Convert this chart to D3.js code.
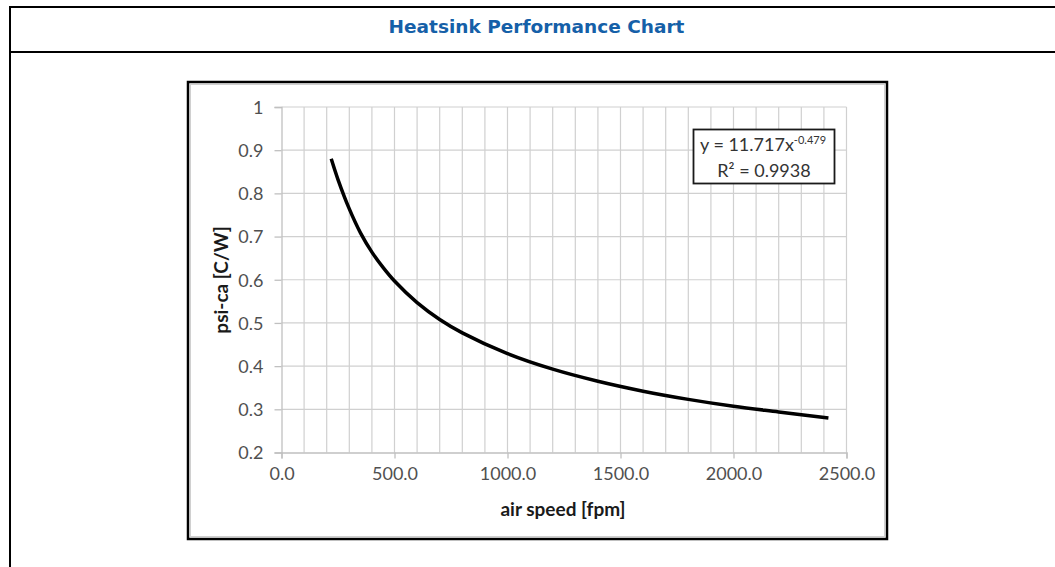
<!DOCTYPE html>
<html>
<head>
<meta charset="utf-8">
<script src="https://cdn.jsdelivr.net/npm/d3@7"></script>
<style>
  html, body { margin: 0; padding: 0; background: #fff; }
  svg { display: block; }
</style>
</head>
<body>
<svg id="chart" width="1055" height="567"></svg>
<script>
// Heatsink thermal resistance vs. air speed
const titleText = "Heatsink Performance Chart";
const airSpeed = [220, 250, 300, 350, 400, 450, 500, 600, 700, 800, 1000, 1200, 1400, 1600, 1800, 2000, 2200, 2420];
const psiCa    = [0.88, 0.832, 0.764, 0.708, 0.664, 0.628, 0.597, 0.547, 0.508, 0.477, 0.429, 0.393, 0.365, 0.342, 0.323, 0.307, 0.294, 0.28];
const xTicks = [0, 500, 1000, 1500, 2000, 2500];
const yTicks = [0.2, 0.3, 0.4, 0.5, 0.6, 0.7, 0.8, 0.9, 1];
const xGrid = d3.range(100, 2501, 100);
const xLabel = "air speed [fpm]";
const yLabel = "psi-ca [C/W]";
const fitCoef = "11.717", fitExp = "-0.479", fitR2 = "0.9938";

const svg = d3.select("#chart");

// page frame: top rule, title separator and left rule
svg.append("line").attr("x1", 9).attr("x2", 1055).attr("y1", 7).attr("y2", 7)
  .attr("stroke", "#000").attr("stroke-width", 2);
svg.append("line").attr("x1", 9).attr("x2", 1055).attr("y1", 52).attr("y2", 52)
  .attr("stroke", "#000").attr("stroke-width", 2);
svg.append("line").attr("x1", 10).attr("x2", 10).attr("y1", 6).attr("y2", 567)
  .attr("stroke", "#000").attr("stroke-width", 2);

svg.append("text").attr("x", 536.5).attr("y", 33).attr("text-anchor", "middle")
  .attr("font-family", "DejaVu Sans, Verdana, sans-serif").attr("font-weight", "bold")
  .attr("font-size", 18.5).attr("fill", "#1560a8").text(titleText);

// chart box
svg.append("rect").attr("x", 188).attr("y", 82).attr("width", 699).attr("height", 457)
  .attr("fill", "#fff").attr("stroke", "#000").attr("stroke-width", 2.5);
svg.append("rect").attr("x", 190.5).attr("y", 84.5).attr("width", 694).attr("height", 452)
  .attr("fill", "none").attr("stroke", "#d0d0d0").attr("stroke-width", 1);

const x = d3.scaleLinear().domain([0, 2500]).range([281.5, 846.5]);
const y = d3.scaleLinear().domain([0.2, 1]).range([452.5, 107]);

const g = svg.append("g");
const tickFont = "Lato, 'Open Sans', sans-serif";

// gridlines
g.selectAll(".vg").data(xGrid).join("line")
  .attr("x1", d => x(d)).attr("x2", d => x(d)).attr("y1", y(1)).attr("y2", y(0.2))
  .attr("stroke", "#d0d0d0").attr("stroke-width", 1.2);
g.selectAll(".hg").data(yTicks.slice(1)).join("line")
  .attr("x1", x(0)).attr("x2", x(2500)).attr("y1", d => y(d)).attr("y2", d => y(d))
  .attr("stroke", "#d0d0d0").attr("stroke-width", 1.2);

// axes
const xAxis = d3.axisBottom(x).tickValues(xTicks).tickSize(6).tickPadding(9)
  .tickFormat(d3.format(".1f"));
const yAxis = d3.axisLeft(y).tickValues(yTicks).tickSize(7).tickPadding(11)
  .tickFormat(d => d === 1 ? "1" : d3.format(".1f")(d));

const gx = g.append("g").attr("transform", `translate(0,${y(0.2)})`).call(xAxis);
const gy = g.append("g").attr("transform", `translate(${x(0)},0)`).call(yAxis);
[gx, gy].forEach(a => {
  a.select(".domain").attr("stroke", "#c0c0c0").attr("stroke-width", 1.3);
  a.selectAll(".tick line").attr("stroke", "#c0c0c0").attr("stroke-width", 1.3);
  a.selectAll(".tick text").attr("fill", "#505050").attr("font-family", tickFont)
    .attr("font-size", 18);
});
gy.selectAll(".tick text").attr("dy", "0.35em");

// axis titles
svg.append("text").attr("x", 563).attr("y", 516).attr("text-anchor", "middle")
  .attr("font-family", tickFont).attr("font-weight", "bold").attr("font-size", 19)
  .attr("fill", "#1a1a1a").text(xLabel);
svg.append("text").attr("transform", "translate(228,280) rotate(-90)")
  .attr("text-anchor", "middle")
  .attr("font-family", tickFont).attr("font-weight", "bold").attr("font-size", 19)
  .attr("fill", "#1a1a1a").text(yLabel);

// fitted curve
const line = d3.line().x((d, i) => x(airSpeed[i])).y(d => y(d)).curve(d3.curveCatmullRom.alpha(0.5));
g.append("path").datum(psiCa).attr("d", line)
  .attr("fill", "none").attr("stroke", "#000").attr("stroke-width", 3.5)
  .attr("stroke-linecap", "butt");

// regression label
svg.append("rect").attr("x", 693.5).attr("y", 129.5).attr("width", 141).attr("height", 54)
  .attr("fill", "#fff").attr("stroke", "#1a1a1a").attr("stroke-width", 1.8);
const eq = svg.append("text").attr("x", 763).attr("y", 151).attr("text-anchor", "middle")
  .attr("font-family", tickFont).attr("font-size", 18).attr("fill", "#333");
eq.append("tspan").text(`y = ${fitCoef}x`);
eq.append("tspan").attr("dy", -7).attr("font-size", 11).text(fitExp);
svg.append("text").attr("x", 764).attr("y", 177).attr("text-anchor", "middle")
  .attr("font-family", tickFont).attr("font-size", 18).attr("fill", "#333")
  .text(`R² = ${fitR2}`);
</script>
</body>
</html>
